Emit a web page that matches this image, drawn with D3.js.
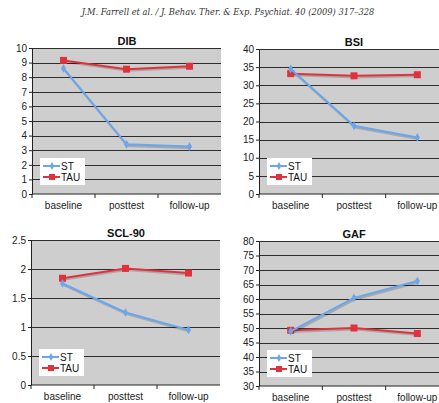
<!DOCTYPE html>
<html>
<head>
<meta charset="utf-8">
<script src="https://cdn.jsdelivr.net/npm/d3@7"></script>
<style>
  body { margin: 0; background: #fff; }
  svg { display: block; font-family: "Liberation Sans", Arial, sans-serif; }
</style>
</head>
<body>
<div id="chart"></div>
<script>
// Farrell et al. 2009 - four outcome panels

const categories = ["baseline", "posttest", "follow-up"];

const dibST = [8.6, 3.4, 3.25];
const dibTAU = [9.15, 8.55, 8.75];
const dibTicks = [0, 1, 2, 3, 4, 5, 6, 7, 8, 9, 10];

const bsiST = [34.5, 18.8, 15.6];
const bsiTAU = [33.2, 32.6, 32.9];
const bsiTicks = [0, 5, 10, 15, 20, 25, 30, 35, 40];

const sclST = [1.75, 1.25, 0.95];
const sclTAU = [1.84, 2.01, 1.93];
const sclTicks = [0, 0.5, 1, 1.5, 2, 2.5];

const gafST = [48.8, 60.4, 66.2];
const gafTAU = [49.2, 50, 48.1];
const gafTicks = [30, 35, 40, 45, 50, 55, 60, 65, 70, 75, 80];

const blue = "#6aa6ee";
const red = "#e0323c";

const svg = d3.select("#chart")
    .append("svg")
    .attr("width", 439)
    .attr("height", 403);

// header line
svg.append("text")
    .attr("x", 228)
    .attr("y", 15)
    .attr("text-anchor", "middle")
    .attr("font-family", "'DejaVu Serif', 'Liberation Serif', serif")
    .attr("font-style", "italic")
    .attr("font-size", 8.3)
    .attr("fill", "#333")
    .text("J.M. Farrell et al. / J. Behav. Ther. & Exp. Psychiat. 40 (2009) 317–328");

const panels = [
    { title: "DIB", st: dibST, tau: dibTAU, ticks: dibTicks, left: 32, top: 48, width: 189, height: 146, legY: 158 },
    { title: "BSI", st: bsiST, tau: bsiTAU, ticks: bsiTicks, left: 259, top: 49, width: 190, height: 145, legY: 158 },
    { title: "SCL-90", st: sclST, tau: sclTAU, ticks: sclTicks, left: 31, top: 240, width: 189, height: 145, legY: 349 },
    { title: "GAF", st: gafST, tau: gafTAU, ticks: gafTicks, left: 259, top: 241, width: 190, height: 145, legY: 350 }
];

panels.forEach((p) => {
    const g = svg.append("g")
        .attr("transform", `translate(${p.left}, ${p.top})`);

    const xScale = d3.scaleBand().domain(categories).range([0, p.width]);
    const yScale = d3.scaleLinear()
        .domain([p.ticks[0], p.ticks[p.ticks.length - 1]])
        .range([p.height, 0]);

    // gray plot area
    g.append("rect")
        .attr("width", p.width)
        .attr("height", p.height)
        .attr("fill", "#cecece");

    // gridlines
    g.selectAll(".grid")
        .data(p.ticks.slice(1))
        .enter()
        .append("line")
        .attr("x1", 0)
        .attr("x2", p.width)
        .attr("y1", d => Math.round(yScale(d)) + 0.5)
        .attr("y2", d => Math.round(yScale(d)) + 0.5)
        .attr("stroke", "#2e2e2e")
        .attr("stroke-width", 1.2);

    // y axis
    const yAxis = g.append("g")
        .call(d3.axisLeft(yScale).tickValues(p.ticks).tickFormat(d => d).tickSize(3).tickSizeOuter(0));
    yAxis.select(".domain").attr("stroke", "#222");
    yAxis.selectAll(".tick line").attr("stroke", "#222");
    yAxis.selectAll("text")
        .attr("font-family", "'Liberation Sans', Arial, sans-serif")
        .attr("font-size", 10)
        .attr("fill", "#222")
        .attr("x", -5);

    // x axis, ticks between categories
    const xAxis = g.append("g")
        .attr("transform", `translate(0, ${p.height})`);
    xAxis.append("line")
        .attr("x1", 0).attr("x2", p.width)
        .attr("stroke", "#222");
    xAxis.selectAll(".sep")
        .data(categories)
        .enter()
        .append("line")
        .attr("x1", d => xScale(d))
        .attr("x2", d => xScale(d))
        .attr("y1", 0)
        .attr("y2", 4)
        .attr("stroke", "#222");
    xAxis.selectAll(".lab")
        .data(categories)
        .enter()
        .append("text")
        .attr("x", d => xScale(d) + xScale.bandwidth() / 2)
        .attr("y", 15)
        .attr("text-anchor", "middle")
        .attr("font-size", 10)
        .attr("fill", "#222")
        .text(d => d);

    // title
    g.append("text")
        .attr("x", 95)
        .attr("y", -3)
        .attr("text-anchor", "middle")
        .attr("font-weight", "bold")
        .attr("font-size", 11)
        .attr("fill", "#111")
        .text(p.title);

    const lineGenerator = d3.line()
        .x((d, i) => xScale(categories[i]) + xScale.bandwidth() / 2)
        .y(d => yScale(d));

    const drawSeries = (values, color, square) => {
        // soft shadow
        g.append("path")
            .datum(values)
            .attr("fill", "none")
            .attr("stroke", "rgba(0,0,0,0.18)")
            .attr("stroke-width", 2.2)
            .attr("transform", "translate(1,1.5)")
            .attr("d", lineGenerator);
        g.append("path")
            .datum(values)
            .attr("fill", "none")
            .attr("stroke", color)
            .attr("stroke-width", 2)
            .attr("d", lineGenerator);
        values.forEach((v, i) => {
            const cx = xScale(categories[i]) + xScale.bandwidth() / 2;
            const cy = yScale(v);
            if (square) {
                g.append("rect")
                    .attr("x", cx - 3.5).attr("y", cy - 3.5)
                    .attr("width", 7).attr("height", 7)
                    .attr("fill", color);
            } else {
                g.append("path")
                    .attr("d", d3.symbol(d3.symbolDiamond, 22)())
                    .attr("transform", `translate(${cx},${cy})`)
                    .attr("fill", color);
            }
        });
    };

    drawSeries(p.tau, red, true);
    drawSeries(p.st, blue, false);

    // legend
    const leg = svg.append("g")
        .attr("transform", `translate(${p.left + 8}, ${p.legY})`);
    leg.append("rect")
        .attr("width", 45)
        .attr("height", 27)
        .attr("fill", "#fff");
    [["ST", blue, false], ["TAU", red, true]].forEach(([name, color, square], i) => {
        const y = 8 + i * 11;
        leg.append("line")
            .attr("x1", 3).attr("x2", 20)
            .attr("y1", y).attr("y2", y)
            .attr("stroke", color)
            .attr("stroke-width", 2);
        if (square) {
            leg.append("rect")
                .attr("x", 9).attr("y", y - 3)
                .attr("width", 6).attr("height", 6)
                .attr("fill", color);
        } else {
            leg.append("path")
                .attr("d", d3.symbol(d3.symbolDiamond, 18)())
                .attr("transform", `translate(12,${y})`)
                .attr("fill", color);
        }
        leg.append("text")
            .attr("x", 21)
            .attr("y", y + 3.5)
            .attr("font-size", 10)
            .attr("fill", "#111")
            .text(name);
    });
});
</script>
</body>
</html>
